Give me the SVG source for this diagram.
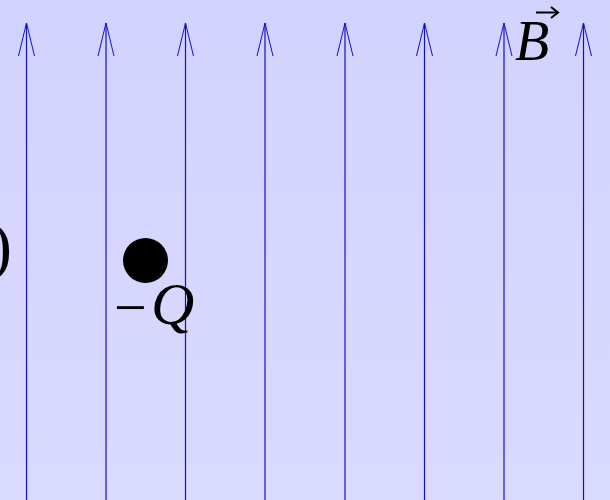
<svg xmlns="http://www.w3.org/2000/svg" width="610" height="500" viewBox="0 0 610 500">
<defs>
<linearGradient id="bg" x1="0" y1="0" x2="0" y2="1">
<stop offset="0" stop-color="#d2d2fe"/>
<stop offset="1" stop-color="#dadaff"/>
</linearGradient>
<marker id="ah" markerWidth="18" markerHeight="40" refX="9" refY="1" orient="0" markerUnits="userSpaceOnUse">
<path d="M1,34 L9,1 L17,34" fill="none" stroke="#1010cc" stroke-width="1"/>
</marker>
</defs>
<style>
.fl{stroke:#1010cc;stroke-width:1.2;fill:none;marker-end:url(#ah)}
.m{font-family:"Liberation Serif","DejaVu Serif",serif;font-style:italic;fill:#000}
.r{font-family:"Liberation Serif","DejaVu Serif",serif;fill:#000}
</style>
<rect x="0" y="0" width="610" height="500" fill="url(#bg)"/>
<g id="connectors">
<line class="fl" x1="26.5" y1="500" x2="26.5" y2="23"/>
<line class="fl" x1="106" y1="500" x2="106" y2="23"/>
<line class="fl" x1="185.5" y1="500" x2="185.5" y2="23"/>
<line class="fl" x1="265" y1="500" x2="265" y2="23"/>
<line class="fl" x1="345" y1="500" x2="345" y2="23"/>
<line class="fl" x1="424.5" y1="500" x2="424.5" y2="23"/>
<line class="fl" x1="504" y1="500" x2="504" y2="23"/>
<line class="fl" x1="583.5" y1="500" x2="583.5" y2="23"/>
</g>
<g id="paren">
<text class="r" x="-10" y="268" font-size="66">)</text>
</g>
<g id="charge">
<circle cx="145.5" cy="260.5" r="22.5" fill="#000"/>
<text class="r" x="114" y="327" font-size="58">−</text>
<text class="m" x="151" y="324" font-size="60">Q</text>
</g>
<g id="Blabel">
<text class="m" x="515" y="60" font-size="56">B</text>
<line x1="536" y1="12.5" x2="557" y2="12.5" stroke="#000" stroke-width="2"/>
<path d="M551,7 L558,12.5 L551,18" fill="none" stroke="#000" stroke-width="2"/>
</g>
</svg>
